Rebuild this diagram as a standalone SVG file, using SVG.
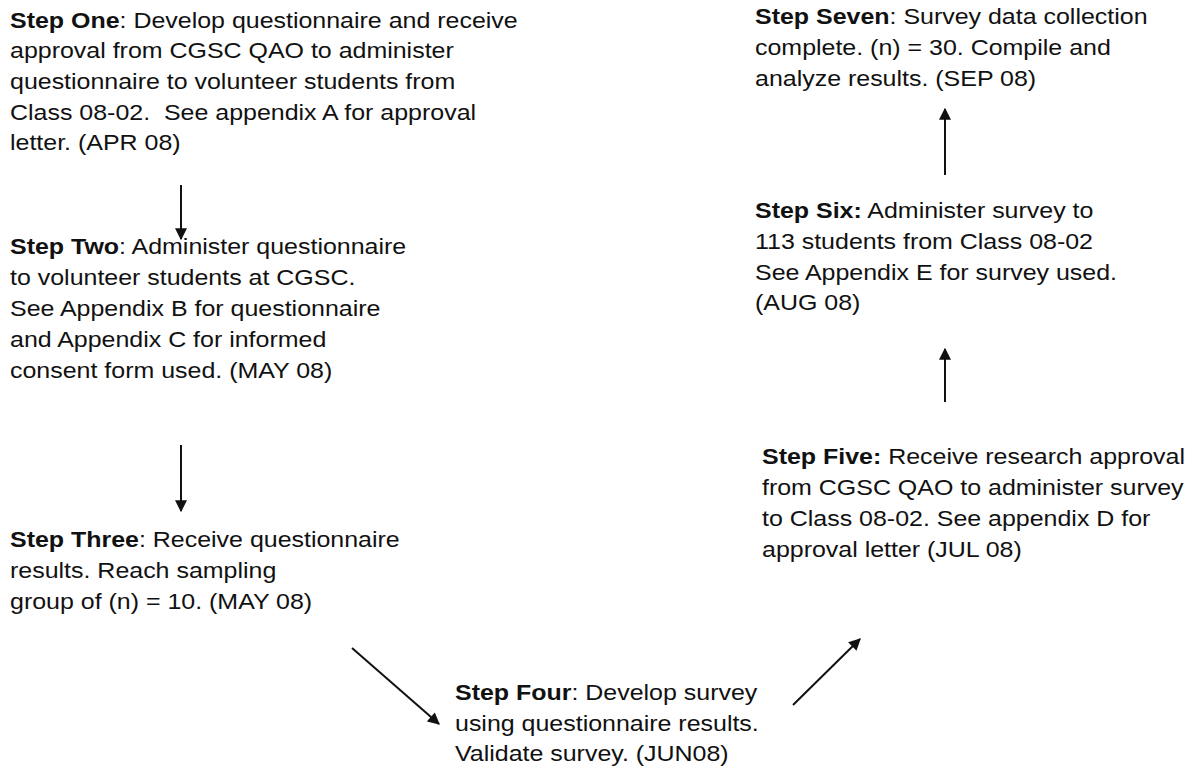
<svg xmlns="http://www.w3.org/2000/svg" width="1196" height="769" viewBox="0 0 1196 769">
<defs>
<style>
text{font-family:"Liberation Sans",Arial,sans-serif;font-size:22px;fill:#111;}
.b{font-weight:bold;}
.c{stroke:#111;stroke-width:2;fill:none;}
</style>
<marker id="ah" viewBox="0 0 10 10" refX="9" refY="5" markerWidth="13" markerHeight="12" orient="auto" markerUnits="userSpaceOnUse">
<path d="M0,0 L10,5 L0,10 z" fill="#111"/>
</marker>
</defs>
<rect width="1196" height="769" fill="#fff"/>
<g id="step1" transform="translate(10,0) scale(1.135,1)">
<text x="0" y="28"><tspan class="b">Step One</tspan>: Develop questionnaire and receive</text>
<text x="0" y="58">approval from CGSC QAO to administer</text>
<text x="0" y="89">questionnaire to volunteer students from</text>
<text x="0" y="120" xml:space="preserve">Class 08-02.  See appendix A for approval</text>
<text x="0" y="150">letter. (APR 08)</text>
</g>
<g id="step2" transform="translate(10,0) scale(1.135,1)">
<text x="0" y="254"><tspan class="b">Step Two</tspan>: Administer questionnaire</text>
<text x="0" y="285">to volunteer students at CGSC.</text>
<text x="0" y="316">See Appendix B for questionnaire</text>
<text x="0" y="347">and Appendix C for informed</text>
<text x="0" y="378">consent form used. (MAY 08)</text>
</g>
<g id="step3" transform="translate(10,0) scale(1.135,1)">
<text x="0" y="547"><tspan class="b">Step Three</tspan>: Receive questionnaire</text>
<text x="0" y="578">results. Reach sampling</text>
<text x="0" y="609">group of (n) = 10. (MAY 08)</text>
</g>
<g id="step4" transform="translate(455,0) scale(1.135,1)">
<text x="0" y="700"><tspan class="b">Step Four</tspan>: Develop survey</text>
<text x="0" y="731">using questionnaire results.</text>
<text x="0" y="761">Validate survey. (JUN08)</text>
</g>
<g id="step5" transform="translate(762,0) scale(1.135,1)">
<text x="0" y="464"><tspan class="b">Step Five:</tspan> Receive research approval</text>
<text x="0" y="495">from CGSC QAO to administer survey</text>
<text x="0" y="526">to Class 08-02. See appendix D for</text>
<text x="0" y="557">approval letter (JUL 08)</text>
</g>
<g id="step6" transform="translate(755,0) scale(1.135,1)">
<text x="0" y="218"><tspan class="b">Step Six:</tspan> Administer survey to</text>
<text x="0" y="249">113 students from Class 08-02</text>
<text x="0" y="280">See Appendix E for survey used.</text>
<text x="0" y="310">(AUG 08)</text>
</g>
<g id="step7" transform="translate(755,0) scale(1.135,1)">
<text x="0" y="24"><tspan class="b">Step Seven</tspan>: Survey data collection</text>
<text x="0" y="55">complete. (n) = 30. Compile and</text>
<text x="0" y="86">analyze results. (SEP 08)</text>
</g>
<g id="connectors">
<line class="c" x1="181" y1="185" x2="181" y2="239" marker-end="url(#ah)"/>
<line class="c" x1="181" y1="445" x2="181" y2="511" marker-end="url(#ah)"/>
<line class="c" x1="352" y1="648" x2="439" y2="724" marker-end="url(#ah)"/>
<line class="c" x1="793" y1="705" x2="860" y2="639" marker-end="url(#ah)"/>
<line class="c" x1="945" y1="402" x2="945" y2="349" marker-end="url(#ah)"/>
<line class="c" x1="945" y1="175" x2="945" y2="109" marker-end="url(#ah)"/>
</g>
</svg>
